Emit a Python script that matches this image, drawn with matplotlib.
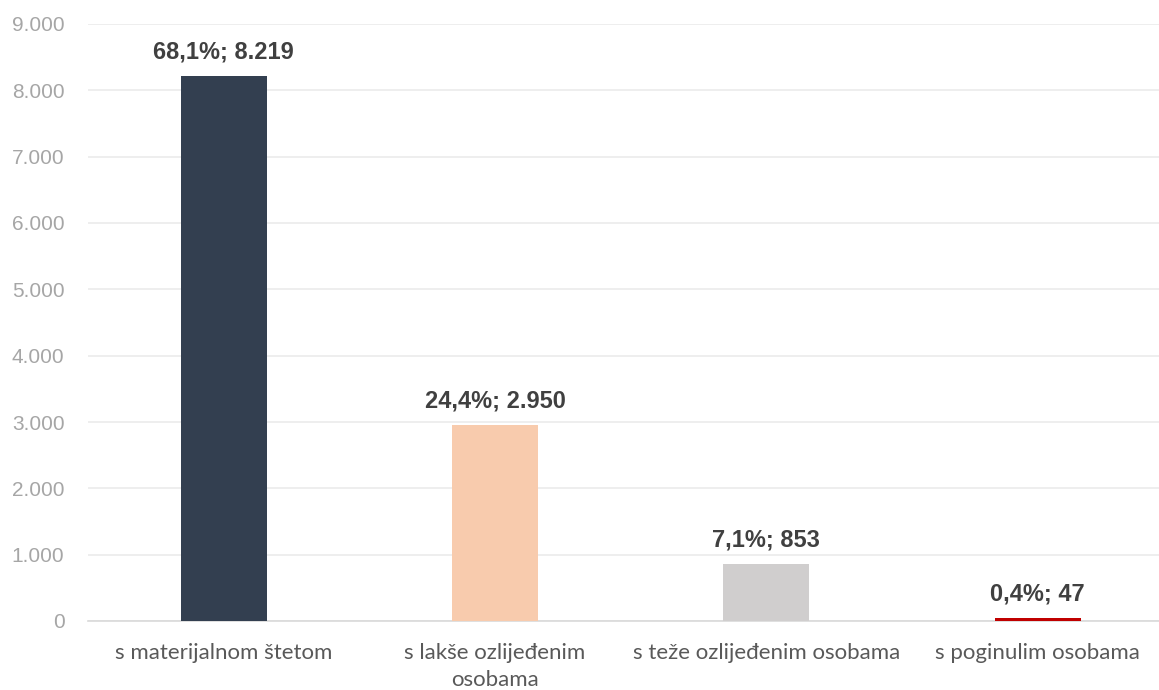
import matplotlib.pyplot as plt
from matplotlib.ticker import FuncFormatter

categories = ["s materijalnom štetom", "s lakše ozlijeđenim\nosobama",
              "s teže ozlijeđenim osobama", "s poginulim osobama"]
values = [8219, 2950, 853, 47]
shares = ["68,1%", "24,4%", "7,1%", "0,4%"]
colors = ["#333F50", "#F8CBAD", "#D0CECE", "#C00000"]


def dots(v, pos=None):
    return f"{int(v):,}".replace(",", ".")


fig = plt.figure(figsize=(11.59, 6.90), dpi=100)
ax = fig.add_axes([88 / 1159, 69 / 690, 1 - 88 / 1159, (621 - 24) / 690])

x = range(len(values))
ax.bar(x, values, width=0.317, color=colors, zorder=3)

for i, (v, s) in enumerate(zip(values, shares)):
    ax.annotate(f"{s}; {dots(v)}", (i, v), xytext=(0, 9),
                textcoords="offset points", ha="center", va="bottom",
                fontsize=17, fontweight="bold", color="#404040",
                family="Liberation Sans")

ax.set_ylim(0, 9000)
ax.set_xlim(-0.5, 3.447)
ax.set_yticks(range(0, 9001, 1000))
ax.yaxis.set_major_formatter(FuncFormatter(dots))
ax.grid(axis="y", color="#EBEBEB", linewidth=1.2, zorder=0)

ax.set_xticks(list(x))
ax.set_xticklabels(categories, fontsize=16, color="#595959", family="Lato",
                   linespacing=1.4)
for lab in ax.get_yticklabels():
    lab.set_family("Liberation Sans")
    lab.set_fontsize(15)
    lab.set_color("#A6A6A6")

ax.tick_params(axis="both", length=0)
ax.tick_params(axis="x", pad=16)
ax.tick_params(axis="y", pad=17)

for side in ["top", "right", "left"]:
    ax.spines[side].set_visible(False)
ax.spines["bottom"].set_color("#D9D9D9")
ax.spines["bottom"].set_linewidth(1.2)

fig.savefig("out.png", dpi=100)
